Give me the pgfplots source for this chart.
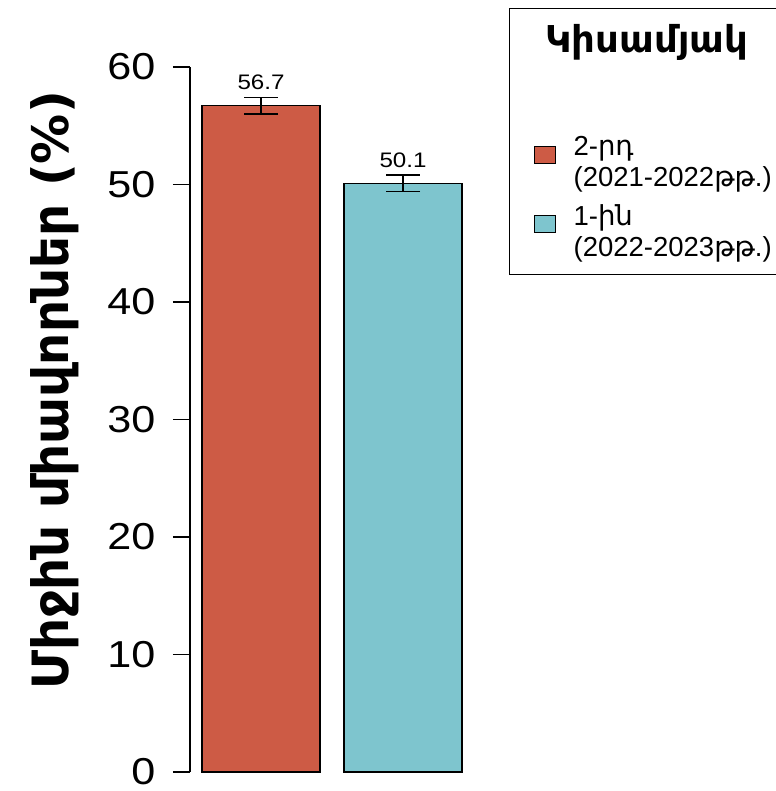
\documentclass[border=0pt]{standalone}
\usepackage{pgfplots}
\pgfplotsset{compat=1.18}
\usepackage{fontspec}
\setmainfont{Liberation Sans}
\newfontfamily\wide[FakeStretch=1.15]{Liberation Sans}
\newfontfamily\arm{DejaVu Sans}
\definecolor{barred}{HTML}{CD5B45}
\definecolor{barteal}{HTML}{7EC5CE}
\begin{document}
\begin{tikzpicture}
\useasboundingbox (0,0) rectangle (775pt,791pt);
\begin{axis}[
  at={(190pt,19pt)}, anchor=south west,
  scale only axis, width=284pt, height=705pt,
  xmin=0.5, xmax=2.5, ymin=0, ymax=60,
  clip=false,
  axis x line=none, axis y line*=left,
  ytick={0,10,20,30,40,50,60},
  tick align=outside, major tick length=17pt,
  every tick/.style={black, line width=1.2pt},
  axis line style={line width=1.2pt},
  /pgf/number format/assume math mode=true,
  yticklabel style={font=\wide\fontsize{37.5}{40}\selectfont, xshift=-14pt},
  ylabel={\arm\bfseries Միջին միավորներ (\%)},
  every axis y label/.style={at={(axis description cs:0,0.541)}, xshift=-135pt, rotate=90, anchor=center, font=\fontsize{50}{54}\selectfont},
  ybar, bar width=118pt,
  nodes near coords={\pgfmathprintnumber[fixed,precision=1,fixed zerofill]{\pgfplotspointmeta}},
  point meta=y,
  nodes near coords style={anchor=base, yshift=16pt, inner sep=0pt, font=\wide\fontsize{21}{24}\selectfont, black},
  legend style={at={(rel axis cs:1.1232,1.0837)}, anchor=north west, draw=black, line width=1.2pt,
    font=\fontsize{27.5}{31}\selectfont, cells={anchor=west, align=left}, nodes={inner sep=0pt},
    row sep=17pt, column sep=18pt,
    inner xsep=24pt, inner ysep=16pt},
  legend image code/.code={\draw[#1, line width=1pt] (0pt,-1pt) rectangle (21pt,16pt);},
]
\addlegendimage{empty legend}
\addlegendentry{\hspace*{-28pt}{\arm\bfseries\fontsize{37}{40}\selectfont Կիսամյակ}\\[34pt]\mbox{}}
\addplot[fill=barred, draw=black, line width=1.2pt, bar shift=0pt,
  error bars/.cd, y dir=both, y explicit,
  error bar style={line width=1.2pt, black},
  error mark options={rotate=90, mark size=17pt, line width=1.2pt, black}]
  coordinates {(1,56.7) +- (0,0.7)};
\addlegendentry{2-{\arm րդ}\\(2021-2022{\arm թթ}.)}
\addplot[fill=barteal, draw=black, line width=1.2pt, bar shift=0pt,
  error bars/.cd, y dir=both, y explicit,
  error bar style={line width=1.2pt, black},
  error mark options={rotate=90, mark size=17pt, line width=1.2pt, black}]
  coordinates {(2,50.1) +- (0,0.7)};
\addlegendentry{1-{\arm ին}\\(2022-2023{\arm թթ}.)}
\end{axis}
\end{tikzpicture}
\end{document}
